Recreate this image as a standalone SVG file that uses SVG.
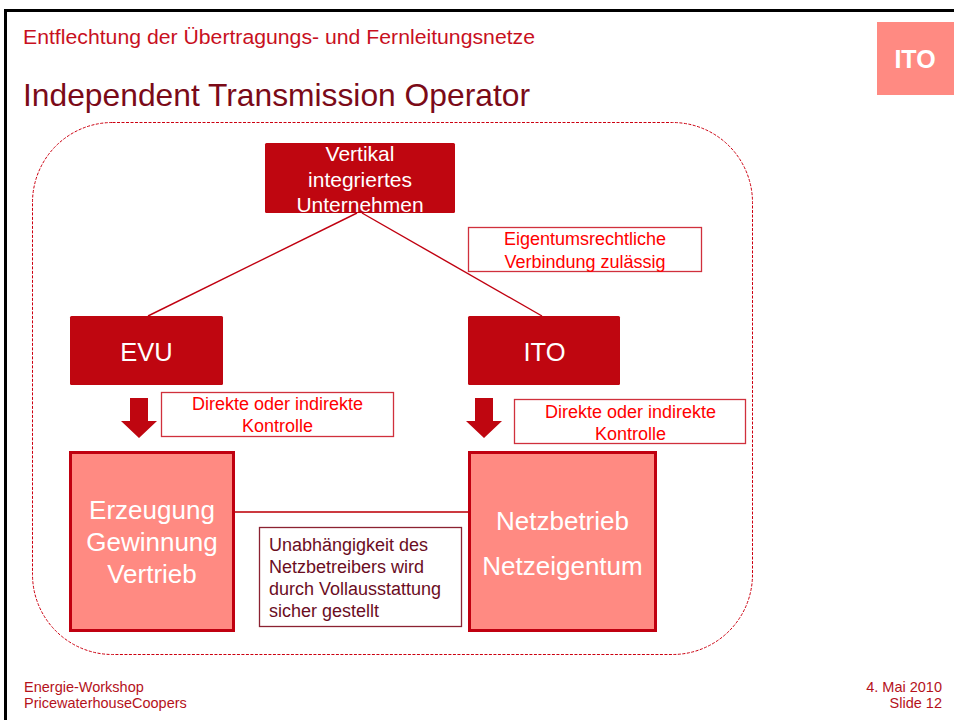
<svg xmlns="http://www.w3.org/2000/svg" width="954" height="720" viewBox="0 0 954 720">
<style>
text{font-family:"Liberation Sans",Arial,sans-serif}
.dark{fill:#bf0610}
.salmon{fill:#ff8a82;stroke:#c00010;stroke-width:3}
.wt{fill:#ffffff;text-anchor:middle}
.lbl{fill:#ffffff;stroke:#d0303c;stroke-width:1.3}
.lt{fill:#ff0000;font-size:18px;text-anchor:middle}
.ln{stroke:#c00010;stroke-width:1.4;fill:none}
.foot{fill:#b5121b;font-size:14.5px}
</style>
<rect width="954" height="720" fill="#ffffff"/>
<g id="frame">
<line x1="5.5" y1="10.5" x2="954" y2="10.5" stroke="#000" stroke-width="3"/>
<line x1="5.5" y1="9" x2="5.5" y2="720" stroke="#000" stroke-width="3"/>
</g>
<g id="header">
<text x="23" y="43.5" font-size="20.5" fill="#c8101e" textLength="512" lengthAdjust="spacingAndGlyphs">Entflechtung der Übertragungs- und Fernleitungsnetze</text>
<text x="23" y="106" font-size="31.7" fill="#7b0a18" textLength="507" lengthAdjust="spacingAndGlyphs">Independent Transmission Operator</text>
</g>
<g id="badge">
<rect x="877" y="22" width="77" height="73" fill="#ff8a82"/>
<text x="915" y="68" font-size="25" font-weight="bold" class="wt">ITO</text>
</g>
<rect id="boundary" x="32.5" y="122.5" width="720" height="532" rx="80" ry="80" fill="none" stroke="#cc0010" stroke-width="1" stroke-dasharray="3,1.5"/>
<g id="connectors">
<line class="ln" x1="357" y1="213" x2="148" y2="316"/>
<line class="ln" x1="362" y1="213" x2="542" y2="316"/>
<line x1="235" y1="512" x2="468" y2="512" stroke="#cc3a40" stroke-width="2"/>
<polygon class="dark" points="130,398 148,398 148,421 157,421 139,438 121,421 130,421"/>
<polygon class="dark" points="475,398 493,398 493,421 502,421 484,438 466,421 475,421"/>
</g>
<g id="vi">
<rect class="dark" x="265" y="143" width="190" height="70" rx="1.5"/>
<text class="wt" font-size="21" x="360" y="161">Vertikal</text>
<text class="wt" font-size="21" x="360" y="186.5">integriertes</text>
<text class="wt" font-size="21" x="360" y="212">Unternehmen</text>
</g>
<g id="eigentum">
<rect class="lbl" x="468.5" y="227.5" width="233" height="44"/>
<text class="lt" x="585" y="245">Eigentumsrechtliche</text>
<text class="lt" x="585" y="268">Verbindung zulässig</text>
</g>
<g id="evu">
<rect class="dark" x="70" y="316" width="153" height="69" rx="1.5"/>
<text class="wt" font-size="25.5" x="146.5" y="361">EVU</text>
</g>
<g id="ito">
<rect class="dark" x="468" y="316" width="152" height="69" rx="1.5"/>
<text class="wt" font-size="25.5" x="544.5" y="361">ITO</text>
</g>
<g id="kontrolle1">
<rect class="lbl" x="161.5" y="392.5" width="232" height="44"/>
<text class="lt" x="277.5" y="410">Direkte oder indirekte</text>
<text class="lt" x="277.5" y="432">Kontrolle</text>
</g>
<g id="kontrolle2">
<rect class="lbl" x="514.5" y="399.5" width="231" height="44"/>
<text class="lt" x="630.5" y="418">Direkte oder indirekte</text>
<text class="lt" x="630.5" y="440">Kontrolle</text>
</g>
<g id="erzeugung">
<rect class="salmon" x="70.5" y="452.5" width="163" height="178"/>
<text class="wt" font-size="26" x="152" y="519">Erzeugung</text>
<text class="wt" font-size="26" x="152" y="551">Gewinnung</text>
<text class="wt" font-size="26" x="152" y="583">Vertrieb</text>
</g>
<g id="netz">
<rect class="salmon" x="469.5" y="452.5" width="186" height="178"/>
<text class="wt" font-size="26" x="562.5" y="530">Netzbetrieb</text>
<text class="wt" font-size="26" x="562.5" y="575">Netzeigentum</text>
</g>
<g id="unabh">
<rect x="259.5" y="527.5" width="202" height="99" fill="#ffffff" stroke="#8b2232" stroke-width="1.3"/>
<text x="269" y="551" font-size="18" fill="#6b0d1f">Unabhängigkeit des</text>
<text x="269" y="573" font-size="18" fill="#6b0d1f">Netzbetreibers wird</text>
<text x="269" y="595" font-size="18" fill="#6b0d1f">durch Vollausstattung</text>
<text x="269" y="617" font-size="18" fill="#6b0d1f">sicher gestellt</text>
</g>
<g id="footer">
<text class="foot" x="24" y="692">Energie-Workshop</text>
<text class="foot" x="24" y="708">PricewaterhouseCoopers</text>
<text class="foot" x="942" y="692" text-anchor="end">4. Mai 2010</text>
<text class="foot" x="942" y="708" text-anchor="end">Slide 12</text>
</g>
</svg>
